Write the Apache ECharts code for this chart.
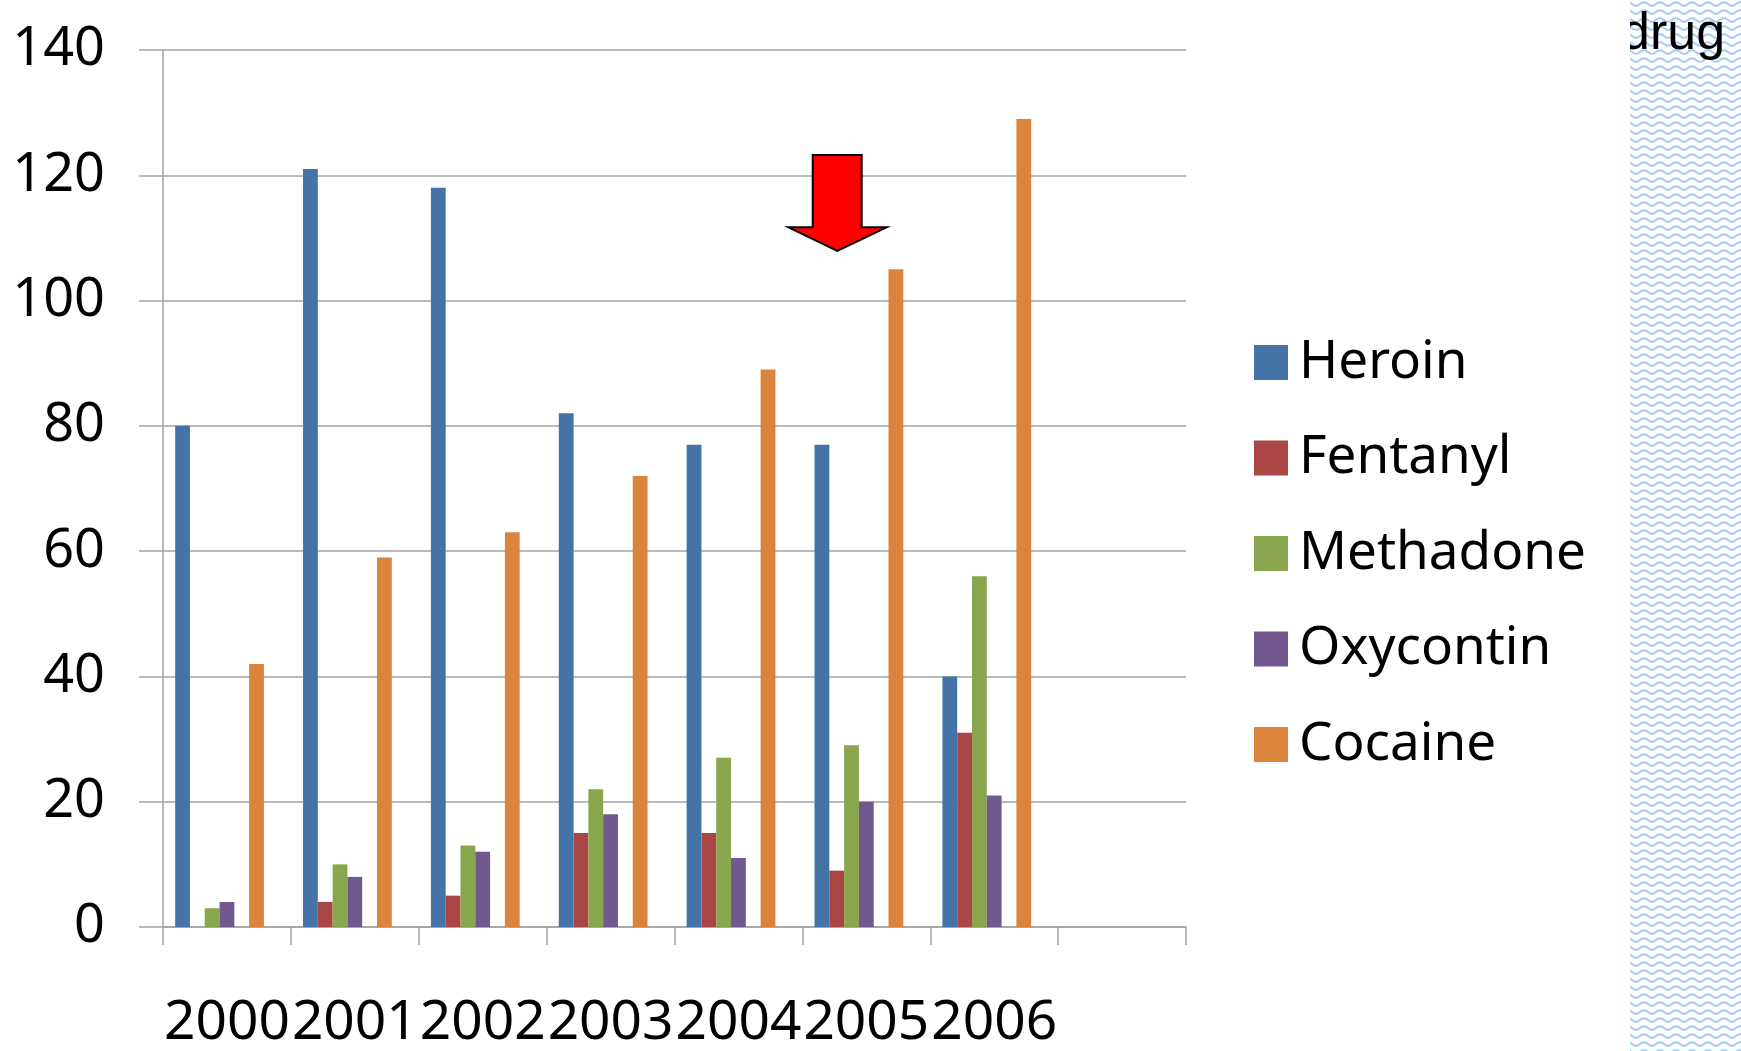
<!DOCTYPE html>
<html>
<head>
<meta charset="utf-8">
<title>Drug deaths by year</title>
<script src="https://cdn.jsdelivr.net/npm/echarts@6/dist/echarts.min.js"></script>
<style>
  html, body { margin: 0; padding: 0; background: #ffffff; }
  #chart { width: 1741px; height: 1051px; }
</style>
</head>
<body>
<div id="chart"></div>
<script>
// Categories: seven years plus one empty slot at the end of the axis
const years = ['2000', '2001', '2002', '2003', '2004', '2005', '2006', ''];

// Counts per drug and year
const heroin    = [80, 121, 118, 82, 77, 77, 40];
const fentanyl  = [0, 4, 5, 15, 15, 9, 31];
const methadone = [3, 10, 13, 22, 27, 29, 56];
const oxycontin = [4, 8, 12, 18, 11, 20, 21];
const cocaine   = [42, 59, 63, 72, 89, 105, 129];
// Empty series that keep the blank bar slots inside each group
const blankSlot = [null, null, null, null, null, null, null];

const drugNames = ['Heroin', 'Fentanyl', 'Methadone', 'Oxycontin', 'Cocaine'];
const yTicks = { min: 0, max: 140, step: 20 };

const colors = {
  Heroin: '#4572a7',
  Fentanyl: '#aa4643',
  Methadone: '#89a54e',
  Oxycontin: '#71588f',
  Cocaine: '#db843d'
};

const FONT = '"Noto Sans", "Open Sans", sans-serif';
const GRID_GRAY = '#a3a3a3';

// Wavy light-blue tile for the side panel
function makeWaveTile() {
  const c = document.createElement('canvas');
  c.width = 16; c.height = 8;
  const g = c.getContext('2d');
  g.fillStyle = '#ffffff';
  g.fillRect(0, 0, 16, 8);
  g.strokeStyle = '#a4cefb';
  g.lineWidth = 2.1;
  g.beginPath();
  for (let x = -1; x <= 17; x += 0.5) {
    const y = 4 + 1.8 * Math.sin((x / 16) * Math.PI * 2);
    if (x === -1) g.moveTo(x, y); else g.lineTo(x, y);
  }
  g.stroke();
  return c;
}

function barSeries(name, data, color) {
  return {
    name: name,
    type: 'bar',
    data: data,
    barGap: 0,
    barCategoryGap: '19%',
    itemStyle: { color: color },
    emphasis: { disabled: true },
    animation: false
  };
}

const chart = echarts.init(document.getElementById('chart'), null, { renderer: 'canvas' });

const option = {
  backgroundColor: '#ffffff',
  animation: false,
  grid: { left: 163, right: 555, top: 50, bottom: 123, containLabel: false },
  legend: {
    data: drugNames,
    orient: 'vertical',
    left: 1249,
    top: 331,
    itemWidth: 34,
    itemHeight: 35,
    itemGap: 42.5,
    icon: 'rect',
    selectedMode: false,
    textStyle: {
      fontFamily: FONT,
      fontSize: 53,
      lineHeight: 53,
      color: '#000000',
      padding: [0, 0, 0, 6]
    }
  },
  xAxis: {
    type: 'category',
    data: years,
    boundaryGap: true,
    axisLine: { show: true, lineStyle: { color: GRID_GRAY, width: 1.5 } },
    axisTick: { show: true, alignWithLabel: false, length: 18, lineStyle: { color: GRID_GRAY, width: 1.5 } },
    axisLabel: {
      fontFamily: FONT,
      fontSize: 55,
      lineHeight: 55,
      color: '#000000',
      margin: 69,
      interval: 0
    },
    splitLine: { show: false }
  },
  yAxis: {
    type: 'value',
    min: yTicks.min,
    max: yTicks.max,
    interval: yTicks.step,
    axisLine: { show: true, lineStyle: { color: GRID_GRAY, width: 1.5 } },
    axisTick: { show: true, length: 24, lineStyle: { color: GRID_GRAY, width: 1.5 } },
    axisLabel: {
      fontFamily: FONT,
      fontSize: 54,
      color: '#000000',
      margin: 58
    },
    splitLine: { show: true, lineStyle: { color: GRID_GRAY, width: 1.5 } }
  },
  series: [
    barSeries('Heroin', heroin, colors.Heroin),
    barSeries('Fentanyl', fentanyl, colors.Fentanyl),
    barSeries('Methadone', methadone, colors.Methadone),
    barSeries('Oxycontin', oxycontin, colors.Oxycontin),
    barSeries('spacerA', blankSlot, 'rgba(0,0,0,0)'),
    barSeries('Cocaine', cocaine, colors.Cocaine),
    barSeries('spacerB', blankSlot, 'rgba(0,0,0,0)')
  ],
  graphic: [
    // side panel with wave texture
    {
      type: 'rect',
      z: 1,
      shape: { x: 1630, y: 0, width: 111, height: 1051 },
      style: { fill: { image: makeWaveTile(), repeat: 'repeat' } },
      silent: true
    },
    // heading fragment peeking out on the panel
    {
      type: 'text',
      z: 2,
      x: 1621,
      y: 35,
      style: {
        text: 'drug',
        font: '52px "Liberation Sans", Arial, sans-serif',
        fill: '#000000',
        verticalAlign: 'middle',
        align: 'left'
      },
      silent: true
    },
    // white mask so the heading is cut at the panel edge
    {
      type: 'rect',
      z: 3,
      shape: { x: 1580, y: 0, width: 50, height: 90 },
      style: { fill: '#ffffff' },
      silent: true
    },
    // red down arrow over 2005
    {
      type: 'polygon',
      z: 10,
      shape: {
        points: [
          [812.7, 155], [861.7, 155], [861.7, 227.3], [886.7, 227.3],
          [837.3, 251], [788.3, 227.3], [812.7, 227.3]
        ]
      },
      style: { fill: '#ff0000', stroke: '#000000', lineWidth: 2, lineJoin: 'miter' },
      silent: true
    }
  ]
};

chart.setOption(option);
</script>
</body>
</html>
